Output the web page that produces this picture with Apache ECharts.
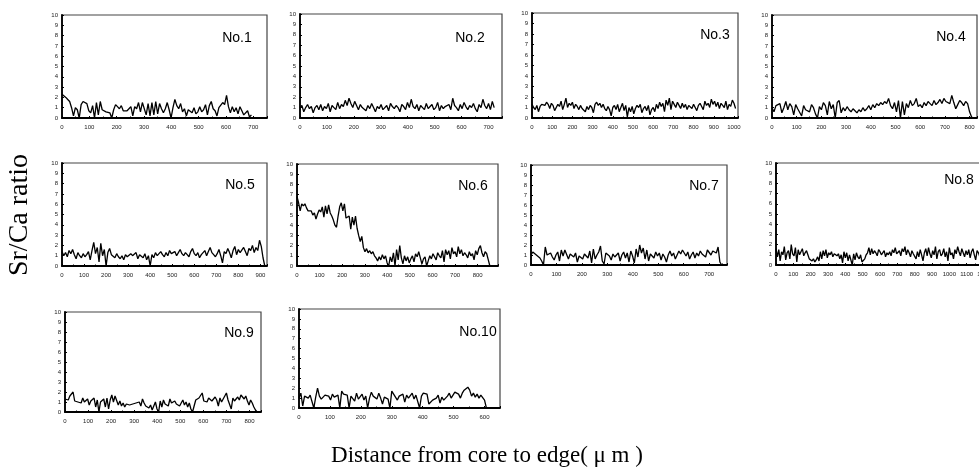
<!DOCTYPE html>
<html>
<head>
<meta charset="utf-8">
<script src="https://cdn.jsdelivr.net/npm/echarts@6/dist/echarts.min.js"></script>
<style>
  html, body { margin: 0; padding: 0; background: #fff; }
  #main { width: 979px; height: 474px; }
</style>
</head>
<body>
<div id="main"></div>
<script>
// panel names
var names = ['No.1', 'No.2', 'No.3', 'No.4', 'No.5', 'No.6', 'No.7', 'No.8', 'No.9', 'No.10'];
// sampling step (um) and axis max (um) for each panel
var steps = [7, 7, 8, 8, 8, 7, 7, 8, 7, 6];
var xMax = [750, 750, 1020, 830, 930, 890, 770, 1200, 850, 650];
var yTicks = [0, 1, 2, 3, 4, 5, 6, 7, 8, 9, 10];

// Sr/Ca values
var p1 = [2.3,2.4,2.0,1.8,1.6,1.0,0.2,1.0,0.8,0.0,
  1.3,1.6,1.5,1.4,0.7,0.5,1.2,0.0,1.5,0.3,
  1.6,0.8,0.7,0.6,0.6,0.5,0.0,0.8,1.3,1.1,
  0.9,1.2,0.7,0.8,0.7,0.9,1.1,0.2,1.1,0.9,
  1.5,0.6,1.5,1.6,0.3,1.4,0.2,1.5,0.3,1.6,
  0.4,1.4,0.9,0.5,0.9,1.5,0.8,0.0,1.0,1.8,
  1.2,0.9,1.4,0.6,0.9,0.2,0.8,0.9,0.5,1.0,
  0.4,0.6,1.1,0.6,0.8,1.3,0.3,1.2,1.6,0.9,
  0.7,0.2,1.0,0.9,1.5,1.3,2.2,1.1,0.5,1.1,
  0.6,1.0,0.4,1.1,0.7,0.3,0.2,0.7,0.1,0.3];
var p2 = [1.0,1.2,0.6,1.0,1.3,0.9,1.1,0.5,1.0,1.2,
  0.8,1.3,0.7,1.1,0.9,1.4,0.6,1.2,1.0,0.8,
  1.5,0.9,1.3,1.1,1.7,1.2,1.9,1.4,1.0,1.6,
  1.2,0.8,1.3,1.0,1.1,0.7,1.2,0.9,1.4,1.0,
  0.6,1.1,0.9,1.3,0.8,1.0,1.2,0.7,1.4,1.1,
  0.9,1.2,1.0,0.6,1.3,1.1,0.8,1.5,1.0,1.8,
  1.1,0.9,1.3,0.7,1.2,1.0,0.8,1.4,0.9,1.1,
  1.3,0.8,1.0,1.5,0.7,1.2,0.9,1.1,1.0,1.3,
  0.8,1.9,1.2,1.0,0.7,1.3,0.9,1.5,1.1,0.8,
  1.2,1.0,1.4,0.9,0.6,1.3,1.0,1.8,1.2,0.9,
  1.4,0.8,1.6,1.0];
var p3 = [1.3,1.0,0.8,1.2,0.6,1.1,1.3,1.4,1.2,1.5,
  1.3,0.9,1.4,1.2,0.7,1.0,1.3,1.1,1.6,0.8,
  1.3,1.9,1.0,1.4,1.2,1.5,0.9,1.3,1.1,0.8,
  1.2,0.9,1.0,0.6,1.1,0.8,1.2,1.0,0.5,1.3,
  1.5,1.2,1.4,1.0,1.3,0.9,0.7,1.1,0.8,0.2,
  1.0,1.2,0.8,1.3,0.6,1.0,1.4,0.7,1.2,0.1,
  1.0,0.6,1.1,0.4,0.9,1.2,1.0,1.3,0.5,0.9,
  1.1,0.7,1.2,0.3,0.8,1.0,0.6,1.3,0.9,1.5,
  1.1,1.4,0.6,1.7,1.2,1.9,0.8,1.6,1.3,1.0,
  1.5,1.2,0.9,1.4,1.0,1.3,0.8,1.2,1.1,0.9,
  1.3,1.0,0.7,1.2,1.4,1.1,0.8,1.6,1.2,1.4,
  1.0,1.8,1.3,1.6,1.1,1.5,0.9,1.4,1.2,1.0,
  1.6,0.8,1.3,1.1,1.7,1.4,0.9];
var p4 = [1.0,0.6,1.2,1.1,1.4,0.5,1.0,1.6,0.8,1.4,
  1.1,0.3,1.3,0.9,1.0,0.2,1.2,0.8,0.7,0.6,
  1.3,1.0,0.4,0.0,1.1,0.8,1.5,1.2,0.3,1.6,
  0.9,1.3,0.0,1.5,1.7,0.5,1.0,0.7,1.1,0.8,
  0.6,0.9,0.7,0.5,0.8,0.6,1.0,0.7,0.9,1.2,
  0.8,1.3,1.0,1.4,1.2,1.5,1.3,1.6,1.4,1.9,
  1.2,0.9,1.5,0.6,1.7,0.0,1.6,0.3,1.4,1.0,
  1.7,1.2,1.4,1.9,1.1,1.3,1.0,1.5,1.2,1.6,
  1.4,1.2,1.7,1.3,1.5,1.8,1.4,1.9,1.6,1.7,
  1.4,2.2,1.5,0.9,1.3,1.7,1.5,1.2,1.6,1.4,
  0.6,0.1,0.0];
var p5 = [1.4,1.0,1.3,0.9,1.5,1.2,1.6,1.1,0.7,1.3,
  1.0,0.8,1.2,0.9,1.1,1.4,0.6,1.5,2.3,1.2,
  1.8,0.4,2.2,1.0,1.6,0.0,1.3,1.7,1.1,1.0,
  0.8,1.2,0.9,0.7,1.0,0.6,1.1,0.9,0.8,1.2,
  1.0,0.9,1.3,0.7,1.1,1.0,0.8,1.2,0.6,1.0,
  0.0,1.1,0.8,1.3,1.0,1.2,1.4,1.1,0.9,1.3,
  1.0,1.5,1.2,1.1,1.4,1.0,1.3,1.6,1.2,1.0,
  1.3,1.1,0.9,1.4,1.7,1.2,1.0,1.3,0.8,1.1,
  1.2,1.5,1.0,1.4,1.8,1.3,1.1,0.9,1.2,1.6,
  1.0,0.3,1.4,1.2,1.7,1.3,0.8,1.5,1.9,1.1,
  1.6,1.3,1.2,1.8,1.4,1.0,1.7,1.5,2.0,1.3,
  1.8,1.5,2.5,1.9,0.8,0.0];
var p6 = [6.8,6.2,5.4,6.1,5.9,6.1,5.7,5.4,5.3,5.4,
  5.0,5.2,4.6,5.1,5.5,5.3,5.8,4.8,5.9,5.1,
  6.0,5.2,4.9,4.5,4.0,3.8,4.9,5.8,6.2,5.4,
  6.1,4.7,4.6,4.9,3.6,4.8,4.0,4.9,3.7,3.0,
  2.4,2.9,1.8,1.4,1.7,1.3,1.5,1.2,1.4,1.0,
  0.8,0.5,0.9,0.6,1.1,0.7,1.0,0.3,0.0,0.9,
  0.4,1.3,0.0,1.6,0.6,2.0,0.8,0.2,1.0,0.5,
  0.9,0.3,0.7,1.0,0.4,1.2,0.9,1.4,0.8,0.2,
  0.7,0.9,0.0,0.5,1.0,0.7,1.2,0.9,0.6,1.3,
  1.0,0.8,1.5,0.4,1.6,1.1,1.5,0.7,1.8,1.2,
  1.4,0.9,1.9,1.2,1.6,1.0,1.3,1.1,0.8,1.4,
  1.0,1.2,0.6,1.5,1.1,1.7,2.0,1.3,0.9,1.4,
  1.2,0.6,0.0];
var p7 = [1.0,1.3,1.2,1.0,0.9,0.7,0.4,0.0,1.8,1.0,
  0.9,1.2,0.8,0.5,1.0,1.3,0.4,1.5,0.9,1.5,
  1.3,0.6,1.1,1.0,0.8,1.2,0.3,0.9,1.0,0.6,
  1.1,0.9,0.7,1.4,0.2,1.6,0.6,1.0,1.3,1.9,
  0.4,0.1,1.2,1.3,0.9,0.5,1.1,0.8,0.6,1.2,
  0.4,1.0,1.3,0.7,1.2,0.3,1.4,0.9,0.2,1.6,
  0.8,2.0,1.2,1.7,0.6,1.5,0.4,1.1,1.0,0.7,
  1.3,0.9,1.2,0.5,1.1,0.8,0.3,1.0,1.4,0.9,
  1.2,0.6,1.0,1.4,1.1,1.5,1.2,0.9,1.3,0.6,
  1.0,1.3,0.7,1.2,0.9,1.4,1.1,1.3,0.8,1.5,
  1.3,1.0,1.4,1.3,1.2,1.8,0.3,0.0];
var p8 = [1.6,0.8,1.5,0.4,1.3,1.0,1.8,0.5,1.2,1.4,
  0.6,2.0,1.1,0.9,1.7,0.3,1.5,1.0,1.3,1.6,
  0.9,1.2,1.4,1.0,0.6,0.5,0.4,0.6,0.3,0.5,
  0.8,0.4,1.3,0.6,1.4,0.9,1.5,0.7,1.2,1.0,
  1.3,0.8,1.1,1.2,0.9,1.1,0.6,1.0,0.2,1.3,
  0.7,1.2,0.4,1.0,0.9,0.0,1.1,0.5,1.2,0.8,
  0.6,1.0,0.3,0.2,0.6,1.0,1.2,1.7,1.0,1.6,
  1.1,1.4,1.2,0.9,1.5,1.3,1.0,1.1,1.4,0.8,
  1.2,1.0,1.3,0.9,1.5,1.2,1.7,1.1,1.0,1.4,
  0.9,1.6,1.3,1.8,1.0,1.5,1.2,0.8,1.4,1.1,
  1.0,0.6,1.3,0.8,1.5,1.0,0.4,1.2,1.6,0.9,
  1.7,1.1,0.7,1.4,1.0,1.8,0.6,1.3,1.5,0.9,
  1.1,1.6,0.8,1.3,0.4,1.7,1.0,1.2,0.6,1.5,
  1.1,1.8,1.3,0.9,1.6,1.2,0.8,1.4,1.0,1.5,
  0.7,1.3,1.6,1.0,0.5,1.4,1.2,0.8,1.3];
var p9 = [1.3,1.5,1.2,1.6,1.4,2.0,1.1,1.3,1.0,1.2,
  0.9,1.4,1.0,0.8,1.3,0.7,1.1,1.0,1.4,0.5,
  1.2,0.0,1.0,0.8,1.3,0.5,1.4,0.3,1.2,1.7,
  1.0,1.6,1.4,0.7,1.1,0.6,0.9,0.5,0.8,0.6,
  0.7,0.5,0.8,0.6,0.9,0.7,1.0,0.6,1.3,0.9,
  0.6,0.8,0.4,0.7,0.2,0.0,1.0,0.3,0.0,1.1,
  0.5,1.2,0.8,1.0,0.6,1.3,0.9,0.7,1.1,0.8,
  1.0,0.6,0.9,1.2,0.7,1.0,0.5,0.9,0.3,0.0,
  0.6,1.2,1.0,1.4,1.2,1.9,1.1,1.3,1.0,1.4,
  1.6,1.1,0.9,1.5,1.2,0.6,1.4,1.0,1.3,1.6,
  1.9,1.2,1.0,0.3,1.4,1.1,0.9,1.5,1.2,1.7,
  1.8,1.3,1.6,1.1,0.7,1.2,0.9,0.5,0.2,0.0];
var p10 = [1.0,1.5,0.2,1.2,1.4,1.0,1.3,1.5,0.0,1.1,
  2.0,1.2,0.9,1.1,1.3,1.5,1.2,0.8,1.4,1.1,
  0.9,1.3,0.0,1.7,1.4,1.5,1.3,0.0,1.2,1.0,
  0.7,1.5,0.9,1.1,1.4,0.8,1.2,0.0,1.0,1.6,
  1.2,1.3,0.9,1.5,1.0,0.4,1.1,1.3,0.9,0.0,
  1.7,1.4,1.6,0.8,1.2,1.0,1.4,0.6,1.3,1.0,
  1.2,1.5,0.9,1.3,1.1,0.0,1.2,1.5,1.3,1.4,
  0.4,0.6,0.8,0.7,1.0,1.3,0.5,1.1,0.8,0.6,
  1.2,1.5,1.0,1.3,1.6,1.8,1.4,1.0,1.5,1.8,
  1.6,2.1,1.8,1.2,1.5,1.1,1.4,1.0,1.3,1.2,
  0.8,0.0];
var values = [p1, p2, p3, p4, p5, p6, p7, p8, p9, p10];

// plot boxes [left, top, width, height] and label centers [x, y]
var boxes = [
  [62, 15, 205, 103], [300, 14, 202, 104], [532, 13, 206, 105], [772, 15, 205, 103],
  [62, 163, 205, 103], [297, 164, 201, 102], [531, 165, 196, 100], [776, 163, 208, 102],
  [65, 312, 196, 100], [299, 309, 201, 99]
];
var labelPos = [
  [237, 38], [470, 38], [715, 35], [951, 37],
  [240, 185], [473, 186], [704, 186], [959, 180],
  [239, 333], [478, 332]
];

var chart = echarts.init(document.getElementById('main'), null, { renderer: 'canvas' });

var grids = [], xAxes = [], yAxes = [], series = [], graphics = [];
for (var i = 0; i < names.length; i++) {
  var b = boxes[i];
  grids.push({
    left: b[0], top: b[1], width: b[2], height: b[3],
    show: true, borderColor: '#444', borderWidth: 1.2,
    containLabel: false, outerBoundsMode: 'none'
  });
  xAxes.push({
    type: 'value', gridIndex: i, min: 0, max: xMax[i], interval: 100,
    axisLine: { show: true, onZero: false, lineStyle: { color: '#000', width: 1.8 } },
    axisTick: { show: true, inside: true, length: 2, lineStyle: { color: '#000' } },
    minorTick: { show: true, splitNumber: 2, length: 1.5, lineStyle: { color: '#000' } },
    splitLine: { show: false },
    axisLabel: {
      fontSize: 6, color: '#222', margin: 6, fontFamily: 'Liberation Sans',
      formatter: function (v) { return v % 100 === 0 ? String(v) : ''; }
    }
  });
  yAxes.push({
    type: 'value', gridIndex: i, min: 0, max: 10, interval: 1,
    axisLine: { show: true, onZero: false, lineStyle: { color: '#000', width: 1.8 } },
    axisTick: { show: true, inside: true, length: 2, lineStyle: { color: '#000' } },
    splitLine: { show: false },
    axisLabel: {
      fontSize: 6, color: '#222', margin: 4, fontFamily: 'Liberation Sans',
      formatter: function (v) { return yTicks.indexOf(v) >= 0 ? String(v) : ''; }
    }
  });
  var pts = [];
  for (var j = 0; j < values[i].length; j++) {
    pts.push([j * steps[i], values[i][j]]);
  }
  series.push({
    type: 'line', xAxisIndex: i, yAxisIndex: i, data: pts,
    symbol: 'none', clip: true, animation: false,
    lineStyle: { color: '#000', width: 1.3 }
  });
  graphics.push({
    type: 'text', x: labelPos[i][0], y: labelPos[i][1],
    style: {
      text: names[i], fill: '#000', font: '14px "Liberation Sans"',
      textAlign: 'center', textVerticalAlign: 'middle'
    }
  });
}

graphics.push({
  type: 'text', x: 20, y: 215, rotation: Math.PI / 2,
  style: {
    text: 'Sr/Ca ratio', fill: '#000', font: '28px "Liberation Serif"',
    textAlign: 'center', textVerticalAlign: 'middle'
  }
});
graphics.push({
  type: 'text', x: 487, y: 456,
  style: {
    text: 'Distance from core to edge( μ m )', fill: '#000', font: '23px "Liberation Serif"',
    textAlign: 'center', textVerticalAlign: 'middle'
  }
});

var option = {
  backgroundColor: '#fff',
  animation: false,
  grid: grids,
  xAxis: xAxes,
  yAxis: yAxes,
  series: series,
  graphic: graphics
};
chart.setOption(option);
</script>
</body>
</html>
